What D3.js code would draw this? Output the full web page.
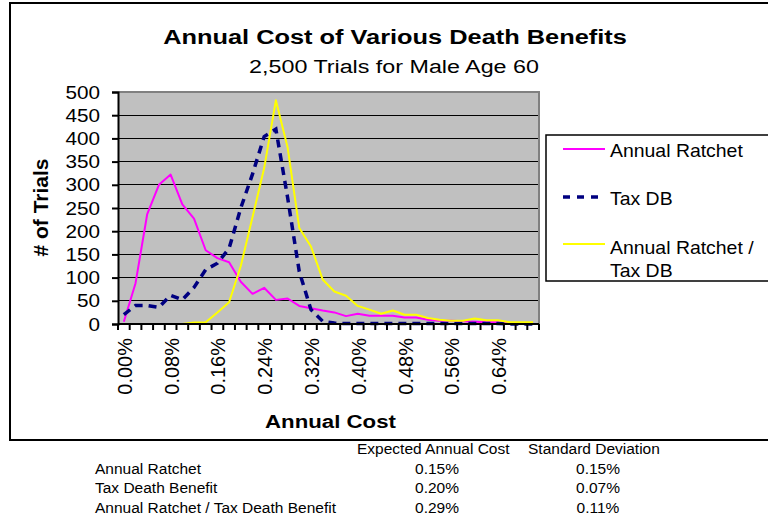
<!DOCTYPE html>
<html>
<head>
<meta charset="utf-8">
<script src="https://cdn.jsdelivr.net/npm/d3@7"></script>
<style>
  html, body { margin: 0; padding: 0; background: #fff; }
  svg { display: block; font-family: "Liberation Sans", Arial, sans-serif; }
</style>
</head>
<body>
<svg id="chart" width="768" height="520"></svg>
<script>
// ---- Data ----
const categories = ["0.00%","0.02%","0.04%","0.06%","0.08%","0.10%","0.12%","0.14%","0.16%","0.18%",
  "0.20%","0.22%","0.24%","0.26%","0.28%","0.30%","0.32%","0.34%","0.36%","0.38%",
  "0.40%","0.42%","0.44%","0.46%","0.48%","0.50%","0.52%","0.54%","0.56%","0.58%",
  "0.60%","0.62%","0.64%","0.66%","0.68%","0.70%"];
const annualRatchet = [5,88,237,300,322,258,227,159,142,133,91,65,78,52,55,39,34,29,25,17,
  22,18,18,18,14,14,9,7,7,6,5,4,4,2,1,1];
const taxDB = [20,40,40,36,62,52,79,117,131,163,250,323,404,420,273,113,31,6,2,1,
  1,1,1,1,1,1,1,1,1,1,1,1,1,0,0,0];
const ratchetTaxDB = [null,null,null,null,null,0,3,4,25,47,125,230,336,482,381,207,167,96,70,61,
  39,31,22,29,20,20,13,9,7,7,12,8,8,4,4,4];
const seriesNames = ["Annual Ratchet","Tax DB","Annual Ratchet / Tax DB"];
const yTicks = [0,50,100,150,200,250,300,350,400,450,500];
const tableHeader = ["Expected Annual Cost","Standard Deviation"];
const tableRows = ["Annual Ratchet","Tax Death Benefit","Annual Ratchet / Tax Death Benefit"];
const expectedCost = ["0.15%","0.20%","0.29%"];
const stdDev = ["0.15%","0.07%","0.11%"];

const svg = d3.select("#chart");

// outer chart border
svg.append("rect").attr("x",10).attr("y",3).attr("width",800).attr("height",437)
  .attr("fill","#fff").attr("stroke","#000").attr("stroke-width",2);

const X0 = 118, X1 = 539, Y0 = 324, Y1 = 92;
const x = d3.scaleBand().domain(categories).range([X0, X1]).padding(0);
const y = d3.scaleLinear().domain([0,500]).range([Y0, Y1]);

// helper: text with horizontal stretch
function txt(g, str, px, py, opts) {
  const o = Object.assign({size:16, weight:"normal", anchor:"start", sx:1, rot:0}, opts||{});
  const t = g.append("text")
    .attr("transform", `translate(${px},${py}) scale(${o.sx},1)` + (o.rot ? ` rotate(${o.rot})` : ""))
    .attr("font-size", o.size).attr("font-weight", o.weight)
    .attr("text-anchor", o.anchor).attr("fill","#000").text(str);
  if (o.width) {
    const L = t.node().getComputedTextLength();
    t.attr("transform", `translate(${px},${py}) scale(${o.width/L},1)`);
  }
  return t;
}

// plot area background
svg.append("rect").attr("x",X0).attr("y",Y1).attr("width",X1-X0).attr("height",Y0-Y1)
  .attr("fill","#c0c0c0");

// gridlines
svg.append("g").selectAll("line").data(yTicks.filter(d=>d>0 && d<500)).join("line")
  .attr("x1",X0).attr("x2",X1).attr("y1",d=>y(d)).attr("y2",d=>y(d))
  .attr("stroke","#000").attr("stroke-width",1).attr("shape-rendering","crispEdges");

// plot border top/right gray
svg.append("path").attr("d",`M${X0},${Y1}H${X1}V${Y0}`).attr("fill","none")
  .attr("stroke","#808080").attr("stroke-width",2);

// series
const line = d3.line().defined(d=>d!=null)
  .x((d,i)=>x(categories[i]) + x.bandwidth()/2).y(d=>y(d));
const plot = svg.append("g");
plot.append("path").datum(annualRatchet).attr("d",line).attr("fill","none")
  .attr("stroke","#ff00ff").attr("stroke-width",2).attr("stroke-linejoin","round");
plot.append("path").datum(taxDB).attr("d",line).attr("fill","none")
  .attr("stroke","#000080").attr("stroke-width",3.5).attr("stroke-dasharray","8,6");
plot.append("path").datum(ratchetTaxDB).attr("d",line).attr("fill","none")
  .attr("stroke","#ffff00").attr("stroke-width",2).attr("stroke-linejoin","round");

// y axis
const yAxis = svg.append("g").attr("transform",`translate(${X0},0)`)
  .call(d3.axisLeft(y).tickValues(yTicks).tickSize(6).tickFormat(""));
yAxis.select(".domain").attr("stroke","#000").attr("stroke-width",2);
yAxis.selectAll(".tick line").attr("stroke","#000").attr("stroke-width",2);
yTicks.forEach(v => txt(svg, String(v), 100, y(v)+6.5, {size:18, anchor:"end", sx:1.15}));

// x axis with ticks at category boundaries
const xAxisG = svg.append("g").attr("transform",`translate(0,${Y0})`);
xAxisG.append("line").attr("x1",X0).attr("x2",X1).attr("y1",0).attr("y2",0)
  .attr("stroke","#000").attr("stroke-width",2);
const bounds = categories.map(c=>x(c)).concat([X1]);
xAxisG.selectAll("line.tk").data(bounds).join("line").attr("class","tk")
  .attr("x1",d=>d).attr("x2",d=>d).attr("y1",0).attr("y2",6)
  .attr("stroke","#000").attr("stroke-width",2);
categories.forEach((c,i) => {
  if (i % 4 === 0 && i <= 32) {
    const cx = x(c) + x.bandwidth()/2;
    svg.append("text")
      .attr("transform",`translate(${cx+8},338) scale(1,1) rotate(-90)`)
      .attr("font-size",20).attr("text-anchor","end").text(c);
  }
});

// titles
txt(svg, "Annual Cost of Various Death Benefits", 395, 44, {size:21, weight:"bold", anchor:"middle", width:464});
txt(svg, "2,500 Trials for Male Age 60", 394, 73, {size:18, anchor:"middle", width:290});
txt(svg, "Annual Cost", 330.5, 428, {size:18.5, weight:"bold", anchor:"middle", width:131});
svg.append("text").attr("transform","translate(47.5,207.5) rotate(-90)")
  .attr("font-size",21).attr("font-weight","bold").attr("text-anchor","middle").text("# of Trials");

// legend
const lg = svg.append("g");
lg.append("rect").attr("x",546).attr("y",135).attr("width",240).attr("height",146)
  .attr("fill","#fff").attr("stroke","#000").attr("stroke-width",1.5);
const legendItems = [
  {name:seriesNames[0], color:"#ff00ff", w:2, dash:null, ly:149, lines:[["Annual Ratchet",157]]},
  {name:seriesNames[1], color:"#000080", w:3.5, dash:"7,7", ly:197, lines:[["Tax DB",205]]},
  {name:seriesNames[2], color:"#ffff00", w:2, dash:null, ly:244, lines:[["Annual Ratchet /",254],["Tax DB",276.5]]}
];
legendItems.forEach(it => {
  lg.append("line").attr("x1",563).attr("x2",605).attr("y1",it.ly).attr("y2",it.ly)
    .attr("stroke",it.color).attr("stroke-width",it.w).attr("stroke-dasharray",it.dash);
  it.lines.forEach(([s,by]) => txt(lg, s, 610, by, {size:18, sx:1.08}));
});

// table
const tb = svg.append("g");
txt(tb, tableHeader[0], 357, 454, {size:15.5});
txt(tb, tableHeader[1], 528, 454, {size:15.5});
tableRows.forEach((r,i) => {
  const by = 473.5 + i*19.5;
  txt(tb, r, 95, by, {size:15.5});
  txt(tb, expectedCost[i], 437, by, {size:15.5, anchor:"middle"});
  txt(tb, stdDev[i], 598, by, {size:15.5, anchor:"middle"});
});
</script>
</body>
</html>
